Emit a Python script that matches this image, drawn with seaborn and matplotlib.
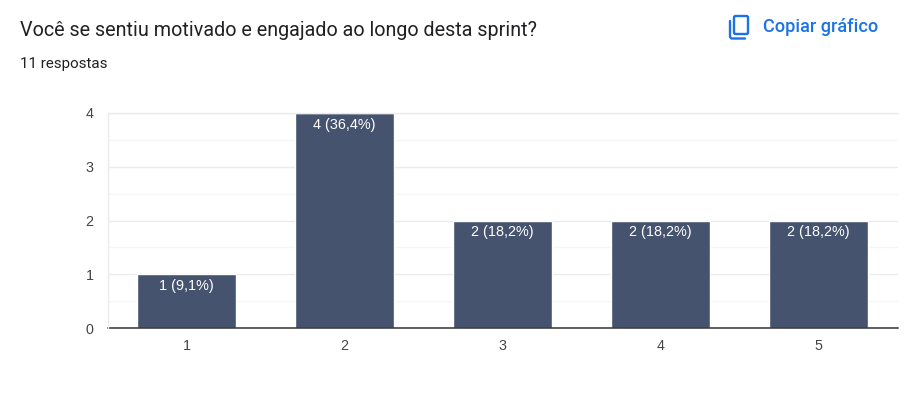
import matplotlib
matplotlib.use("Agg")

import matplotlib.pyplot as plt
import seaborn as sns
import pandas as pd
from matplotlib.patches import FancyBboxPatch
from matplotlib.lines import Line2D

# dados
categorias = ["1", "2", "3", "4", "5"]
respostas = [1, 4, 2, 2, 2]
rotulos = ["1 (9,1%)", "4 (36,4%)", "2 (18,2%)", "2 (18,2%)", "2 (18,2%)"]
ticks_y = [0, 1, 2, 3, 4]
ticks_menores = [0.5, 1.5, 2.5, 3.5]

titulo = "Você se sentiu motivado e engajado ao longo desta sprint?"
subtitulo = "11 respostas"
botao = "Copiar gráfico"

W, H = 907, 396

sns.set_style("white")
plt.rcParams["font.family"] = ["Liberation Sans", "DejaVu Sans"]

df = pd.DataFrame({"categoria": categorias, "respostas": respostas})

fig = plt.figure(figsize=(W / 100, H / 100), dpi=100)
ax = fig.add_axes([107.5 / W, 1 - 328 / H, 790 / W, 215 / H])

sns.barplot(data=df, x="categoria", y="respostas", color="#46536f", saturation=1,
            width=0.625, ax=ax, zorder=3)

ax.set_xlim(-0.5, 4.5)
ax.set_ylim(0, 4)
ax.set_xlabel("")
ax.set_ylabel("")
ax.set_yticks(ticks_y)
ax.set_yticks(ticks_menores, minor=True)
ax.grid(True, axis="y", which="major", color="#ebebeb", lw=1, zorder=0)
ax.grid(True, axis="y", which="minor", color="#f6f6f6", lw=1, zorder=0)
ax.tick_params(axis="both", which="both", length=0)
ax.tick_params(axis="x", labelsize=10.3, labelcolor="#444444", pad=8)
ax.tick_params(axis="y", labelsize=10.3, labelcolor="#444444", pad=10)

for s in ["top", "right", "left"]:
    ax.spines[s].set_visible(False)
ax.spines["bottom"].set_color("#333333")
ax.spines["bottom"].set_linewidth(1.1)
ax.spines["bottom"].set_zorder(5)

# linhas claras do topo e da esquerda
fig.add_artist(Line2D([108 / W, 108 / W], [1 - 113 / H, 1 - 328 / H], color="#ebebeb", lw=1))
fig.add_artist(Line2D([108 / W, 898 / W], [1 - 113 / H, 1 - 113 / H], color="#ebebeb", lw=1))

ax.bar_label(ax.containers[0], labels=rotulos, label_type="edge", padding=-13.5,
             color="white", fontsize=10.4, zorder=6)

# cabeçalho
fig.text(20 / W, 1 - 31 / H, titulo, fontsize=14.2, family=["Roboto", "DejaVu Sans"],
         color="#202124", va="center", ha="left")
fig.text(20 / W, 1 - 64 / H, subtitulo, fontsize=10.9, family=["Roboto", "DejaVu Sans"],
         color="#202124", va="center", ha="left")
fig.text(763 / W, 1 - 27 / H, botao, fontsize=13.1, family=["Roboto", "DejaVu Sans"],
         weight="medium", color="#1a73e8", va="center", ha="left")

# ícone de copiar
ic = fig.add_axes([0, 0, 1, 1], facecolor="none")
ic.set_xlim(0, W)
ic.set_ylim(H, 0)
ic.axis("off")
ic.add_patch(FancyBboxPatch((734, 16), 14, 18, boxstyle="round,pad=0,rounding_size=1.5",
                            fill=False, ec="#1a73e8", lw=1.7))
ic.add_line(Line2D([730, 730, 731.5, 745], [21, 37, 38.5, 38.5], color="#1a73e8", lw=1.7))

fig.savefig("out.png", dpi=100)
